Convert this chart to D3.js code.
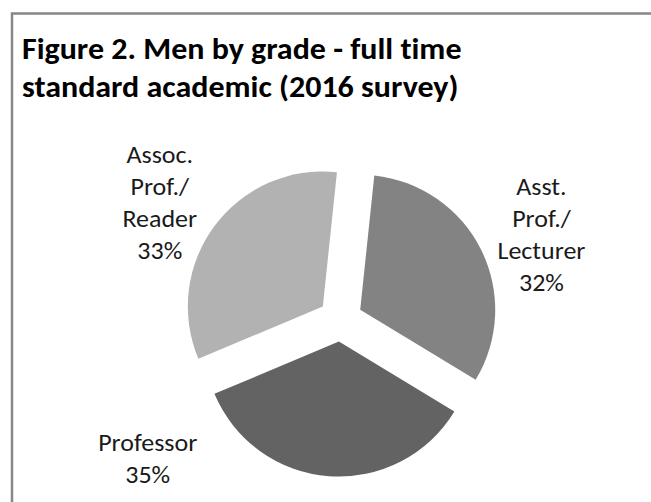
<!DOCTYPE html>
<html>
<head>
<meta charset="utf-8">
<script src="https://cdn.jsdelivr.net/npm/d3@7"></script>
<style>
  html,body{margin:0;padding:0;background:#fff;overflow:hidden;}
  svg{display:block;}
  svg text{font-family:Carlito,"Liberation Sans Narrow","DejaVu Sans Condensed","Open Sans",sans-serif;fill:#1a1a1a;font-variant-ligatures:none;}
</style>
</head>
<body>
<svg id="chart" width="651" height="502"></svg>
<script>
// data
var grades = ['Asst.|Prof./|Lecturer', 'Professor', 'Assoc.|Prof./|Reader'];
var shares = [32, 35, 33];
var colours = ['#838383', '#636363', '#b2b2b2'];
var titleLines = ['Figure 2. Men by grade - full time', 'standard academic (2016 survey)'];

var svg = d3.select('#chart');
var W = 651, H = 502;

// frame: only top and left edges are inside the crop
svg.append('path')
  .attr('d', 'M12,' + (H + 5) + 'V13.5H' + (W + 5))
  .attr('fill', 'none')
  .attr('stroke', '#878787')
  .attr('stroke-width', 2.5);

// glyphs in the picture are a little wider than the font's own shape
var squashTitle = 0.92, squashLabel = 0.92;

// title
svg.append('g').selectAll('text')
  .data(titleLines)
  .enter().append('text')
  .attr('transform', function(d, i){ return 'translate(22,' + (59 + i * 38) + ') scale(1,' + squashTitle + ')'; })
  .style('font-size', '32px')
  .style('font-weight', 'bold')
  .style('fill', '#000')
  .text(function(d){ return d; });

var cx = 340.5, cy = 319.6, R = 135, explode = 22;
var start = 6 * Math.PI / 180;

var pie = d3.pie().sort(null).startAngle(start).endAngle(start + 2 * Math.PI);
var arc = d3.arc().innerRadius(0).outerRadius(R);
var arcs = pie(shares);

var g = svg.append('g').attr('transform', 'translate(' + cx + ',' + cy + ')');

g.selectAll('path')
  .data(arcs)
  .enter().append('path')
  .attr('d', arc)
  .attr('fill', function(d, i){ return colours[i]; })
  .attr('transform', function(d){
    var a = (d.startAngle + d.endAngle) / 2;
    return 'translate(' + (Math.sin(a) * explode) + ',' + (-Math.cos(a) * explode) + ')';
  });

// where Excel dropped each label: angle (deg, clockwise from 12) and distance from centre
var labelAt = [[67.2, 218], [234.1, 238], [302.8, 215]];
var lineH = 32;

var labels = g.selectAll('g.lbl')
  .data(arcs)
  .enter().append('g')
  .attr('class', 'lbl')
  .attr('transform', function(d, i){
    var a = labelAt[i][0] * Math.PI / 180, r = labelAt[i][1];
    return 'translate(' + (Math.sin(a) * r) + ',' + (-Math.cos(a) * r) + ')';
  });

labels.each(function(d, i){
  var lines = grades[i].split('|').concat([shares[i] + '%']);
  var top = -(lines.length - 1) * lineH / 2;
  d3.select(this).selectAll('text')
    .data(lines)
    .enter().append('text')
    .attr('text-anchor', 'middle')
    .attr('transform', function(t, k){ return 'translate(0,' + (top + k * lineH + 7.5) + ') scale(1,' + squashLabel + ')'; })
    .style('font-size', '26px')
    .text(function(t){ return t; });
});
</script>
</body>
</html>
